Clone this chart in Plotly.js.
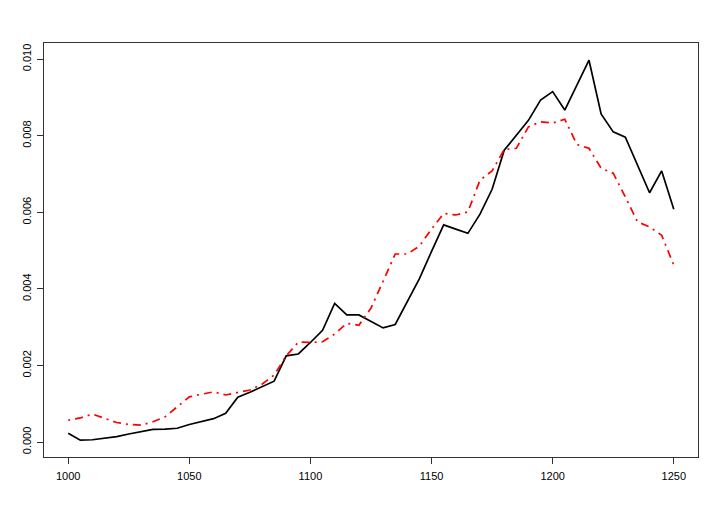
<!DOCTYPE html>
<html>
<head>
<meta charset="utf-8">
<script src="https://cdn.plot.ly/plotly-3.0.1.min.js"></script>
<style>
  html, body { margin: 0; padding: 0; background: #fff; }
  #chart { width: 720px; height: 513px; }
</style>
</head>
<body>
<div id="chart"></div>
<script>
(function () {

	'use strict';

	// years, every 5 from 1000 to 1250
	const years = [
		1000, 1005, 1010, 1015, 1020, 1025, 1030, 1035, 1040, 1045,
		1050, 1055, 1060, 1065, 1070, 1075, 1080, 1085, 1090, 1095,
		1100, 1105, 1110, 1115, 1120, 1125, 1130, 1135, 1140, 1145,
		1150, 1155, 1160, 1165, 1170, 1175, 1180, 1185, 1190, 1195,
		1200, 1205, 1210, 1215, 1220, 1225, 1230, 1235, 1240, 1245,
		1250
	];

	// solid black series
	const solidSeries = [
		0.00023, 0.00005, 0.00006, 0.00010, 0.00014, 0.00021, 0.00027, 0.00033, 0.00034, 0.00036,
		0.00046, 0.00053, 0.00061, 0.00075, 0.00117, 0.00130, 0.00145, 0.00159, 0.00225, 0.00230,
		0.00260, 0.00292, 0.00362, 0.00332, 0.00332, 0.00315, 0.00298, 0.00307, 0.00368, 0.00427,
		0.00498, 0.00567, 0.00556, 0.00545, 0.00595, 0.00660, 0.00762, 0.00800, 0.00840, 0.00893,
		0.00915, 0.00867, 0.00932, 0.00997, 0.00857, 0.00810, 0.00796, 0.00723, 0.00651, 0.00708,
		0.00608
	];

	// red dot-dash series
	const dashSeries = [
		0.00057, 0.00063, 0.00073, 0.00063, 0.00051, 0.00046, 0.00044, 0.00053, 0.00066, 0.00092,
		0.00118, 0.00125, 0.00131, 0.00123, 0.00129, 0.00136, 0.00151, 0.00175, 0.00225, 0.00261,
		0.00260, 0.00262, 0.00282, 0.00310, 0.00305, 0.00350, 0.00420, 0.00491, 0.00491, 0.00512,
		0.00556, 0.00597, 0.00593, 0.00601, 0.00684, 0.00708, 0.00764, 0.00767, 0.00823, 0.00836,
		0.00833, 0.00843, 0.00777, 0.00767, 0.00715, 0.00702, 0.00640, 0.00575, 0.00562, 0.00540,
		0.00462
	];

	const xTicks = [1000, 1050, 1100, 1150, 1200, 1250];
	const yTicks = [0.000, 0.002, 0.004, 0.006, 0.008, 0.010];

	const data = [{
		x: years,
		y: solidSeries,
		type: 'scatter',
		mode: 'lines',
		line: { color: '#000000', width: 1.7 },
		hoverinfo: 'skip'
	}, {
		x: years,
		y: dashSeries,
		type: 'scatter',
		mode: 'lines',
		line: { color: '#ff0000', width: 1.7, dash: '2px,5px,8px,5px' },
		hoverinfo: 'skip'
	}];

	const axisFont = { family: 'Liberation Sans, Arial, sans-serif', size: 11, color: '#000' };

	const layout = {
		width: 720,
		height: 513,
		margin: { l: 44, r: 22, t: 43, b: 56 },
		paper_bgcolor: '#ffffff',
		plot_bgcolor: '#ffffff',
		showlegend: false,
		xaxis: {
			range: [990, 1260],
			tickvals: xTicks,
			ticktext: xTicks.map(String),
			ticks: 'outside',
			ticklen: 6,
			tickcolor: '#333',
			showgrid: false,
			zeroline: false,
			showline: true,
			mirror: true,
			linecolor: '#333',
			linewidth: 1,
			tickfont: axisFont,
			ticklabelstandoff: 3
		},
		yaxis: {
			range: [-0.00039, 0.01042],
			tickvals: yTicks,
			ticktext: yTicks.map(v => v.toFixed(3)),
			tickangle: -90,
			ticks: 'outside',
			ticklen: 6,
			tickcolor: '#333',
			showgrid: false,
			zeroline: false,
			showline: true,
			mirror: true,
			linecolor: '#333',
			linewidth: 1,
			tickfont: axisFont,
			ticklabelstandoff: 2
		}
	};

	Plotly.newPlot('chart', data, layout, { displayModeBar: false, staticPlot: true });

})();
</script>
</body>
</html>
